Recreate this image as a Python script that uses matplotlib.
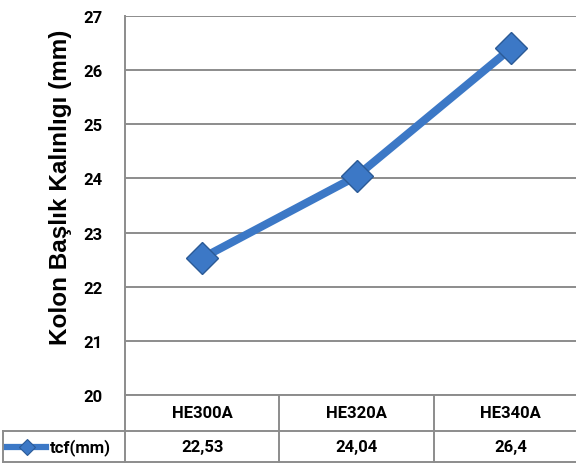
import matplotlib
matplotlib.use('Agg')
import matplotlib.pyplot as plt
from matplotlib.lines import Line2D

categories = ['HE300A', 'HE320A', 'HE340A']
values = [22.53, 24.04, 26.4]
value_labels = ['22,53', '24,04', '26,4']
series_name = 'tcf(mm)'
y_ticks = [20, 21, 22, 23, 24, 25, 26, 27]

W, H = 576, 464
blue = '#3C78C6'
edge_blue = '#2B5A96'
grid_gray = '#8C8C8C'
small_font = 'Roboto'
small_size = 12

fig = plt.figure(figsize=(W / 100, H / 100), dpi=100)

# plot area in pixels (right edge goes past the figure, like the cropped original)
left, right, top, bottom = 125, 588, 17, 396
ax = fig.add_axes([left / W, 1 - bottom / H, (right - left) / W, (bottom - top) / H])

x = list(range(len(categories)))
ax.plot(x, values, color=blue, lw=5.8, marker='D', markersize=16,
        markerfacecolor=blue, markeredgecolor=edge_blue, markeredgewidth=1.0,
        solid_capstyle='butt', zorder=3)

ax.set_xlim(-0.5, len(categories) - 0.5)
ax.set_ylim(20, 27)
ax.set_yticks(y_ticks)
ax.set_xticks([])
ax.yaxis.grid(True, color=grid_gray, lw=1.4)
ax.set_axisbelow(True)
for s in ['top', 'right', 'bottom']:
    ax.spines[s].set_visible(False)
ax.spines['left'].set_color(grid_gray)
ax.spines['left'].set_linewidth(1.4)
ax.tick_params(axis='y', length=0, pad=16, labelsize=small_size)
for lab in ax.get_yticklabels():
    lab.set_fontfamily(small_font)
    lab.set_fontweight('bold')

fig.text(61 / W, 1 - 187 / H, 'Kolon Başlık Kalınlıgı (mm)', rotation=90,
         ha='center', va='center', fontsize=17.5, fontweight='bold',
         family='Liberation Sans')

# data table under the plot
def px(xp, yp):
    return xp / W, 1 - yp / H

row1_top, row2_top, row2_bot = 396, 432, 463
col_w = (right - left) / len(categories)
line_kw = dict(color=grid_gray, lw=1.4, transform=fig.transFigure)

fig.add_artist(Line2D([left / W, 1], [1 - row1_top / H] * 2, **line_kw))
fig.add_artist(Line2D([3 / W, 1], [1 - row2_top / H] * 2, **line_kw))
fig.add_artist(Line2D([3 / W, 1], [1 - row2_bot / H] * 2, **line_kw))
fig.add_artist(Line2D([3 / W] * 2, [1 - row2_top / H, 1 - row2_bot / H], **line_kw))
for i in range(len(categories)):
    xc = left + i * col_w
    fig.add_artist(Line2D([xc / W] * 2, [1 - row1_top / H, 1 - row2_bot / H], **line_kw))

txt_kw = dict(ha='center', va='center', fontsize=small_size, fontweight='bold', family=small_font)
for i, (c, v) in enumerate(zip(categories, value_labels)):
    xc = left + (i + 0.5) * col_w
    fig.text(*px(xc, (row1_top + row2_top) / 2), c, **txt_kw)
    fig.text(*px(xc, (row2_top + row2_bot) / 2), v, **txt_kw)

# legend key in the table
ky = 1 - 448 / H
fig.add_artist(Line2D([7 / W, 46 / W], [ky, ky], color=blue, lw=4.5,
                      transform=fig.transFigure))
fig.add_artist(Line2D([27 / W], [ky], color=blue, marker='D', markersize=8,
                      markeredgecolor=edge_blue, markeredgewidth=0.8,
                      transform=fig.transFigure))
fig.text(50 / W, ky, series_name, ha='left', va='center', fontsize=small_size,
         fontweight='bold', family=small_font)

fig.savefig('out.png', dpi=100)
